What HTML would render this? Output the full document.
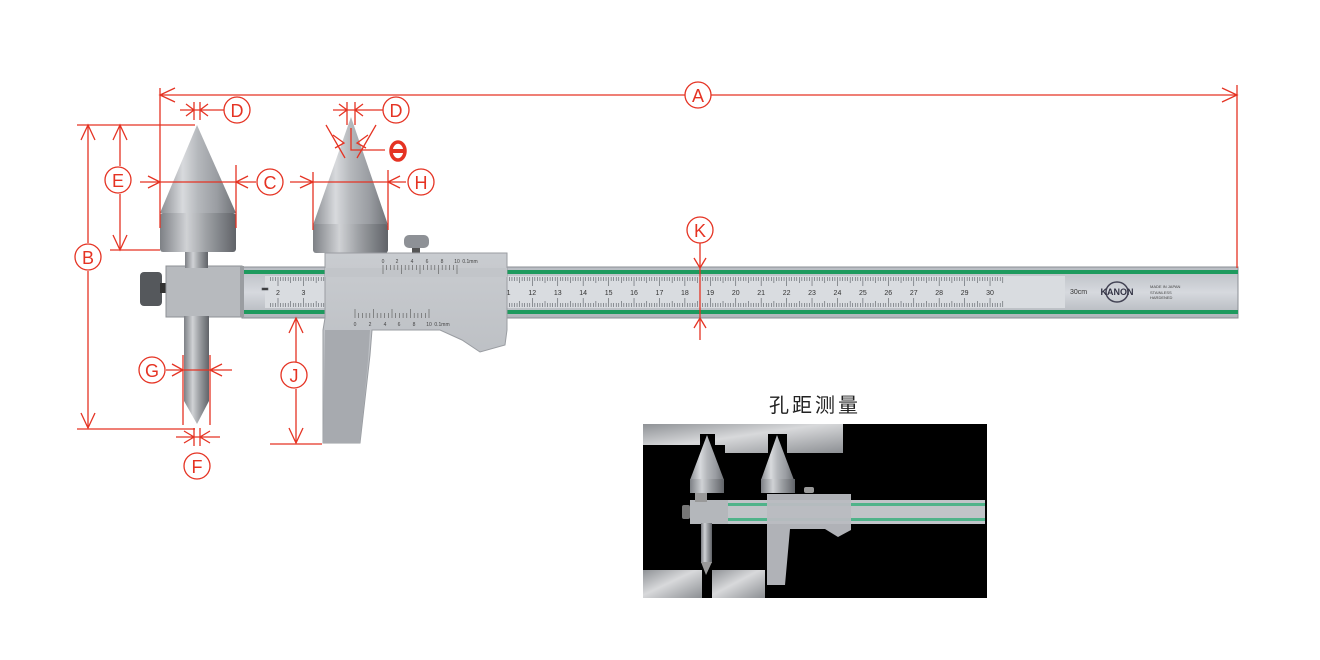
<!DOCTYPE html>
<html><head><meta charset="utf-8"><style>
html,body{margin:0;padding:0;background:#fff;}
svg{display:block;}
text{font-family:"Liberation Sans",sans-serif;}
</style></head><body>
<svg id="s" width="1320" height="660" viewBox="0 0 1320 660" xmlns="http://www.w3.org/2000/svg">
<defs>
<linearGradient id="cone" x1="0" x2="1" y1="0" y2="0">
<stop offset="0" stop-color="#8a8d92"/><stop offset="0.3" stop-color="#d8dadd"/><stop offset="0.5" stop-color="#b5b8bc"/><stop offset="0.75" stop-color="#9a9da2"/><stop offset="1" stop-color="#6f7277"/></linearGradient>
<linearGradient id="cyl" x1="0" x2="1" y1="0" y2="0">
<stop offset="0" stop-color="#7d8085"/><stop offset="0.35" stop-color="#d0d2d5"/><stop offset="0.6" stop-color="#9fa2a6"/><stop offset="1" stop-color="#606368"/></linearGradient>
<linearGradient id="beam" x1="0" x2="0" y1="0" y2="1">
<stop offset="0" stop-color="#b8bcc2"/><stop offset="0.5" stop-color="#d6d9de"/><stop offset="1" stop-color="#b0b4ba"/></linearGradient>
<linearGradient id="slid" x1="0" x2="0" y1="0" y2="1">
<stop offset="0" stop-color="#c9ccd0"/><stop offset="1" stop-color="#b3b6bb"/></linearGradient>
<linearGradient id="plate" x1="0" x2="1" y1="0" y2="1">
<stop offset="0" stop-color="#8f9296"/><stop offset="0.45" stop-color="#d8d9db"/><stop offset="1" stop-color="#8c8f93"/></linearGradient>
</defs>

<!-- main beam -->
<rect x="242" y="267" width="996" height="51" fill="url(#beam)" stroke="#8b8f95"/>
<rect x="242" y="270" width="996" height="4" fill="#1e9a5e"/>
<rect x="242" y="310" width="996" height="4" fill="#1e9a5e"/>
<rect x="265" y="276" width="800" height="32" fill="#d9dce0"/>
<g id="ticks" stroke="#555a60" stroke-width="0.6"></g>
<g id="nums" font-size="7" fill="#333" text-anchor="middle"></g>
<text x="1070" y="294" font-size="7" fill="#333">30cm</text>
<ellipse cx="1117" cy="292" rx="11" ry="10" fill="none" stroke="#445" stroke-width="1.5"/>
<text x="1117" y="295" font-size="9" font-weight="bold" fill="#334" text-anchor="middle">KANON</text>
<text x="1150" y="288" font-size="4" fill="#444">MADE IN JAPAN</text>
<text x="1150" y="294" font-size="4" fill="#444">STAINLESS</text>
<text x="1150" y="299" font-size="4" fill="#444">HARDENED</text>

<!-- left block & knob -->
<rect x="140" y="272" width="22" height="34" rx="4" fill="#55585c"/>
<rect x="160" y="283" width="8" height="10" fill="#333"/>
<rect x="166" y="266" width="76" height="51" fill="#b7babe" stroke="#8d9095"/>
<rect x="240" y="266" width="4" height="51" fill="#9a9da1"/>

<!-- left cone -->
<rect x="185" y="250" width="23" height="18" fill="url(#cyl)"/>
<path d="M197,125 L236,213 L160,213 Z" fill="url(#cone)"/>
<rect x="160" y="213" width="76" height="39" rx="3" fill="url(#cyl)"/>
<rect x="184" y="316" width="25" height="85" fill="url(#cyl)"/>
<path d="M184,401 L209,401 L197,424 Z" fill="url(#cyl)"/>

<!-- right cone -->
<path d="M351,117 L388,225 L313,225 Z" fill="url(#cone)"/>
<rect x="313" y="224" width="75" height="29" rx="3" fill="url(#cyl)"/>

<!-- slider -->
<rect x="412" y="247" width="8" height="8" fill="#555"/>
<rect x="404" y="235" width="25" height="13" rx="5" fill="#8e9196"/>
<path d="M325,253 L507,253 L507,330 L505,345 L480,352 L462,340 L440,330 L372,330 L370,355 L360,443 L323,443 L323,330 L325,318 Z" fill="url(#slid)" stroke="#9a9da2"/>
<rect x="325" y="268" width="182" height="9" fill="#c2c5c9"/>
<g id="vern" stroke="#555" stroke-width="0.6"></g>
<g font-size="5" fill="#444" text-anchor="middle">
<text x="383" y="263">0</text><text x="397" y="263">2</text><text x="412" y="263">4</text><text x="427" y="263">6</text><text x="442" y="263">8</text><text x="457" y="263">10</text><text x="470" y="263">0.1mm</text>
<text x="355" y="326">0</text><text x="370" y="326">2</text><text x="385" y="326">4</text><text x="399" y="326">6</text><text x="414" y="326">8</text><text x="429" y="326">10</text><text x="442" y="326">0.1mm</text>
</g>
<path d="M325,330 L370,330 L368,360 L360,443 L323,443 Z" fill="#a7aaaf"/>

<!-- dimension lines -->
<g stroke="#e53323" stroke-width="1.3" fill="none">
<line x1="160" y1="95" x2="685" y2="95"/><line x1="711" y1="95" x2="1237" y2="95"/>
<path d="M175,88 L160,95 L175,102 M1222,88 L1237,95 L1222,102"/>
<line x1="160" y1="88" x2="160" y2="228"/>
<line x1="1237" y1="85" x2="1237" y2="268"/>
<path d="M180,110 L224,110 M186,104 L194,110 L186,116 M208,104 L200,110 L208,116 M194,102 L194,120 M200,102 L200,120"/>
<path d="M333,110 L383,110 M339,104 L347,110 L339,116 M363,104 L355,110 L363,116 M347,102 L347,125 M355,102 L355,125"/>
<path d="M326,125 L345,158 M376,125 L357,158 M333,135 L344,143 L335,148 M368,135 L357,143 L366,148 M351,128 L351,150 L385,150"/>
<line x1="120" y1="125" x2="120" y2="166"/><line x1="120" y1="194" x2="120" y2="250"/>
<path d="M113,140 L120,125 L127,140 M113,235 L120,250 L127,235"/>
<line x1="110" y1="250" x2="160" y2="250"/>
<line x1="88" y1="125" x2="88" y2="243"/><line x1="88" y1="271" x2="88" y2="428"/>
<path d="M81,140 L88,125 L95,140 M81,413 L88,428 L95,413"/>
<line x1="77" y1="125" x2="195" y2="125"/>
<line x1="77" y1="429" x2="195" y2="429"/>
<line x1="140" y1="182" x2="256" y2="182"/>
<path d="M148,176 L160,182 L148,188 M248,176 L236,182 L248,188"/>
<line x1="236" y1="165" x2="236" y2="228"/>
<line x1="290" y1="182" x2="406" y2="182"/>
<path d="M300,176 L313,182 L300,188 M400,176 L388,182 L400,188"/>
<line x1="313" y1="172" x2="313" y2="230"/><line x1="388" y1="170" x2="388" y2="230"/>
<line x1="166" y1="370" x2="232" y2="370"/>
<path d="M172,364 L183,370 L172,376 M222,364 L210,370 L222,376"/>
<line x1="183" y1="355" x2="183" y2="425"/><line x1="210" y1="355" x2="210" y2="425"/>
<path d="M176,437 L220,437 M184,431 L194,437 L184,443 M210,431 L200,437 L210,443 M194,428 L194,446 M200,428 L200,446"/>
<line x1="296" y1="318" x2="296" y2="362"/><line x1="296" y1="389" x2="296" y2="443"/>
<path d="M289,333 L296,318 L303,333 M289,428 L296,443 L303,428"/>
<line x1="270" y1="444" x2="322" y2="444"/>
<line x1="700" y1="243" x2="700" y2="340"/>
<path d="M694,258 L700,268 L706,258 M694,328 L700,318 L706,328"/>
</g>
<g fill="#fff" stroke="#e53323" stroke-width="1.3">
<circle cx="698" cy="95" r="13"/><circle cx="237" cy="110" r="13"/><circle cx="396" cy="110" r="13"/>
<circle cx="118" cy="180" r="13"/><circle cx="270" cy="182" r="13"/><circle cx="421" cy="182" r="13"/>
<circle cx="88" cy="257" r="13"/><circle cx="700" cy="230" r="13"/><circle cx="152" cy="370" r="13"/>
<circle cx="294" cy="375" r="13"/><circle cx="197" cy="466" r="13"/>
</g>
<g fill="#e53323" font-size="18" text-anchor="middle">
<text x="698" y="102">A</text><text x="237" y="117">D</text><text x="396" y="117">D</text>
<text x="118" y="187">E</text><text x="270" y="189">C</text><text x="421" y="189">H</text>
<text x="88" y="264">B</text><text x="700" y="237">K</text><text x="152" y="377">G</text>
<text x="294" y="382">J</text><text x="197" y="473">F</text>
</g>
<ellipse cx="398" cy="151" rx="7" ry="9" fill="none" stroke="#e53323" stroke-width="3.5"/>
<rect x="391" y="149" width="14" height="4" fill="#e53323"/>

<!-- inset -->
<text x="815" y="412" font-size="20" fill="#222" text-anchor="middle" style="font-family:'Liberation Sans','Noto Sans CJK SC',sans-serif;letter-spacing:3px">孔距测量</text>
<rect x="643" y="424" width="344" height="174" fill="#000"/>
<path d="M643,424 L843,424 L843,453 L787,453 L787,434 L768,434 L768,453 L725,453 L725,445 L715,445 L715,434 L700,434 L700,445 L643,445 Z" fill="url(#plate)"/>
<rect x="643" y="570" width="59" height="28" fill="url(#plate)"/>
<rect x="712" y="570" width="53" height="28" fill="url(#plate)"/>
<rect x="727" y="500" width="258" height="24" fill="#c0c4c8"/>
<rect x="727" y="503" width="258" height="3" fill="#4fb38a"/>
<rect x="727" y="518" width="258" height="3" fill="#4fb38a"/>
<rect x="682" y="505" width="8" height="14" rx="2" fill="#777"/>
<rect x="690" y="500" width="38" height="24" fill="#b4b7bb"/>
<rect x="695" y="490" width="12" height="12" fill="#999"/>
<path d="M707,435 L724,480 L690,480 Z" fill="url(#cone)"/><rect x="690" y="479" width="34" height="14" fill="url(#cyl)"/>
<rect x="701" y="523" width="11" height="40" fill="url(#cyl)"/><path d="M701,562 L712,562 L706,575 Z" fill="#999"/>
<path d="M777,435 L794,480 L761,480 Z" fill="url(#cone)"/><rect x="761" y="479" width="34" height="14" fill="url(#cyl)"/>
<rect x="804" y="487" width="10" height="6" rx="2" fill="#999"/>
<path d="M767,494 L851,494 L851,530 L838,537 L825,529 L790,529 L785,585 L767,585 Z" fill="#b9bcc1" opacity="0.95"/>
</svg>
<script>
(function(){
var ns="http://www.w3.org/2000/svg";
function el(p,t,a,txt){var e=document.createElementNS(ns,t);for(var k in a)e.setAttribute(k,a[k]);if(txt)e.textContent=txt;p.appendChild(e);}
var T=document.getElementById('ticks'),N=document.getElementById('nums'),V=document.getElementById('vern');
var px=25.43,x0=278-2*px;
for(var mm=15;mm<=305;mm++){var x=x0+mm*px/10;if(x<268||x>1062)continue;
var l=(mm%10==0)?9:(mm%5==0)?6:4;
el(T,'line',{x1:x,y1:277,x2:x,y2:277+l});el(T,'line',{x1:x,y1:307,x2:x,y2:307-l});}
for(var c=2;c<=30;c++){el(N,'text',{x:x0+c*px,y:295},String(c));}
for(var i=0;i<=20;i++){var x=383+i*3.7;var l=(i%5==0)?9:5;el(V,'line',{x1:x,y1:265,x2:x,y2:265+l});var x2=355+i*3.7;el(V,'line',{x1:x2,y1:318,x2:x2,y2:318-l});}
el(T,'rect',{x:262,y:288,width:6,height:2,fill:'#333'});
})();
</script>
</body></html>
